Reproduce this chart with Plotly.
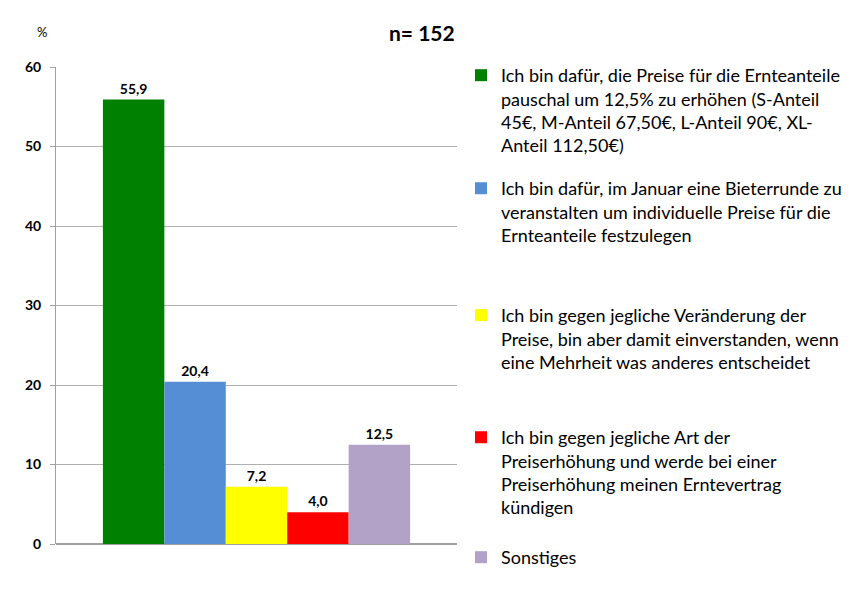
import plotly.graph_objects as go

# answer options (legend text, pre-wrapped like the original slide)
answers = [
    "Ich bin dafür, die Preise für die Ernteanteile<br>pauschal um 12,5% zu erhöhen (S-Anteil<br>45€, M-Anteil 67,50€, L-Anteil 90€, XL-<br>Anteil 112,50€)",
    "Ich bin dafür, im Januar eine Bieterrunde zu<br>veranstalten um individuelle Preise für die<br>Ernteanteile festzulegen",
    "Ich bin gegen jegliche Veränderung der<br>Preise, bin aber damit einverstanden, wenn<br>eine Mehrheit was anderes entscheidet",
    "Ich bin gegen jegliche Art der<br>Preiserhöhung und werde bei einer<br>Preiserhöhung meinen Erntevertrag<br>kündigen",
    "Sonstiges",
]
shares = [55.9, 20.4, 7.2, 4.0, 12.5]
bar_colors = ["#008000", "#558ED5", "#FFFF00", "#FF0000", "#B3A2C7"]
y_ticks = [0, 10, 20, 30, 40, 50, 60]

FONT = "Lato"
# top of each legend block, in paper coords
legend_y = [1.021, 0.784, 0.518, 0.262, 0.0105]

fig = go.Figure()
for i, (name, val, col) in enumerate(zip(answers, shares, bar_colors)):
    leg = "legend" if i == 0 else f"legend{i + 1}"
    fig.add_trace(
        go.Bar(
            x=[""],
            y=[val],
            name=name,
            marker=dict(color=col, line=dict(width=0)),
            texttemplate="%{y:.1f}",
            textposition="outside",
            textfont=dict(family=FONT, size=14, color="#000000", weight="bold"),
            cliponaxis=False,
            legend=leg,
        )
    )

layout_legends = {}
for i, ly in enumerate(legend_y):
    key = "legend" if i == 0 else f"legend{i + 1}"
    layout_legends[key] = dict(
        x=1.0075,
        xanchor="left",
        y=ly,
        yanchor="top",
        valign="top",
        bgcolor="rgba(0,0,0,0)",
        font=dict(family=FONT, size=18, color="#000000"),
        itemclick=False,
    )

fig.update_layout(
    width=850,
    height=592,
    margin=dict(l=48, r=400, t=59, b=56),
    paper_bgcolor="white",
    plot_bgcolor="white",
    barmode="group",
    bargap=0.234,
    bargroupgap=0,
    separators=",.",
    showlegend=True,
    font=dict(family=FONT, color="#000000"),
    xaxis=dict(
        showticklabels=False,
        showgrid=False,
        showline=False,
        zeroline=False,
    ),
    yaxis=dict(
        range=[0, 60],
        tickvals=y_ticks,
        showgrid=True,
        gridcolor="#B0B0B0",
        gridwidth=1,
        showline=True,
        linecolor="#A0A0A0",
        linewidth=1,
        zeroline=True,
        zerolinecolor="#A0A0A0",
        ticks="outside",
        ticklen=5,
        tickcolor="#A0A0A0",
        ticklabelstandoff=6,
        tickfont=dict(family=FONT, size=14, color="#000000", weight="bold"),
    ),
    annotations=[
        dict(
            text="n= 152",
            xref="paper", yref="paper",
            x=1.0, y=1.0, yshift=35,
            xanchor="right", yanchor="middle",
            showarrow=False,
            font=dict(family=FONT, size=21, color="#000000", weight="bold"),
        ),
        dict(
            text="%",
            xref="paper", yref="paper",
            x=0, y=1.0, xshift=-7, yshift=35,
            xanchor="right", yanchor="middle",
            showarrow=False,
            font=dict(family=FONT, size=13, color="#000000"),
        ),
    ],
    **layout_legends,
)

fig.write_html("out.html")
